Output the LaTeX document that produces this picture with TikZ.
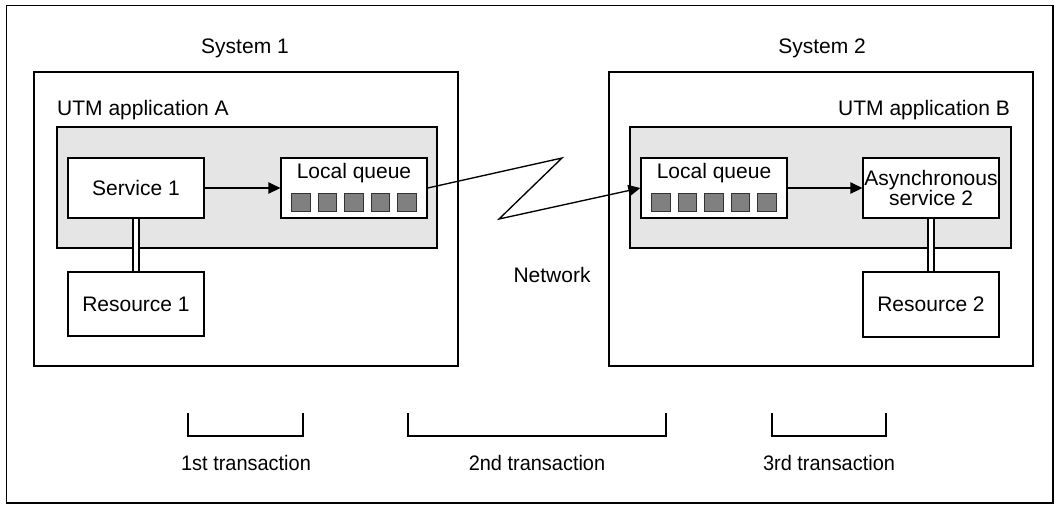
\documentclass[tikz,border=0pt]{standalone}
\usepackage{fontspec}
\setmainfont{Liberation Sans}
\usetikzlibrary{arrows.meta}
\begin{document}
\begin{tikzpicture}[x=1pt,y=-1pt,
  every node/.style={font=\fontsize{21}{20}\selectfont, inner sep=0pt},
  ln/.style={line width=1.35pt},
  sysbox/.style={draw, ln, minimum width=424pt, minimum height=294pt},
  appbox/.style={draw, ln, fill=black!10, minimum width=380pt, minimum height=121pt},
  box/.style={draw, ln, fill=white, minimum width=136pt, minimum height=60pt, align=center},
  qbox/.style={draw, ln, fill=white, minimum width=146pt, minimum height=60pt},
  qsq/.style={draw=black!80, line width=0.9pt, fill=black!50, minimum size=18.5pt},
  arr/.style={ln, -{Triangle[length=12pt,width=11.5pt]}},
  link/.style={line width=1.2pt, double=white, double distance=4.8pt},
  brk/.style={line width=1.1pt}
]
\useasboundingbox (0,0) rectangle (1056,504);
\draw[line width=1.6pt] (6.5,5.5) rectangle (1053,503);

% systems
\node[sysbox] (sys1) at (246,219) {};
\node[sysbox] (sys2) at (821,219) {};
\node (sys1t) at (245,48) {System 1};
\node (sys2t) at (822,48) {System 2};

% applications
\node[appbox] (appA) at (247,187.5) {};
\node[appbox, minimum width=381pt] (appB) at (820.5,187.5) {};
\node[anchor=west] (appAt) at (57,110) {UTM application A};
\node[anchor=east] (appBt) at (1010,110) {UTM application B};

% boxes
\node[box] (s1) at (136,188) {Service 1};
\node[box, minimum height=64pt] (r1) at (136,304) {Resource 1};
\node[qbox] (qa) at (354,188) {};
\node (qat) at (354,173) {Local queue};
\node[qbox] (qb) at (714,188) {};
\node (qbt) at (714,173) {Local queue};
\node[box] (s2) at (931,188) {Asynchronous\\service 2};
\node[box, minimum height=65pt] (r2) at (931,304.5) {Resource 2};

\foreach \i/\d in {1/-53,2/-26.5,3/0,4/26.5,5/53}{
  \node[qsq] (qa\i) at (354+\d,202.5) {};
  \node[qsq] (qb\i) at (714+\d,202.5) {};
}

% links
\draw[link] (s1.south) -- (r1.north);
\draw[link] (s2.south) -- (r2.north);
\draw[arr] (s1.east) -- (qa.west);
\draw[arr] (qb.east) -- (s2.west);

% network zigzag
\coordinate (z1) at (562,158);
\coordinate (z2) at (499,219);
\draw[arr, line join=miter] (qa.east) -- (z1) -- (z2) -- (qb.west);
\node (net) at (552,275) {Network};

% transactions
\coordinate (b1a) at (188,413); \coordinate (b1b) at (303,413);
\coordinate (b2a) at (408,413); \coordinate (b2b) at (666,413);
\coordinate (b3a) at (772,413); \coordinate (b3b) at (886,413);
\draw[brk] (b1a) -- ++(0,23) -| (b1b);
\draw[brk] (b2a) -- ++(0,23) -| (b2b);
\draw[brk] (b3a) -- ++(0,23) -| (b3b);
\node (t1) at (246,463) {\scalebox{0.95}[1]{1st transaction}};
\node (t2) at (537,463) {\scalebox{0.95}[1]{2nd transaction}};
\node (t3) at (829,463) {\scalebox{0.95}[1]{3rd transaction}};
\end{tikzpicture}
\end{document}
